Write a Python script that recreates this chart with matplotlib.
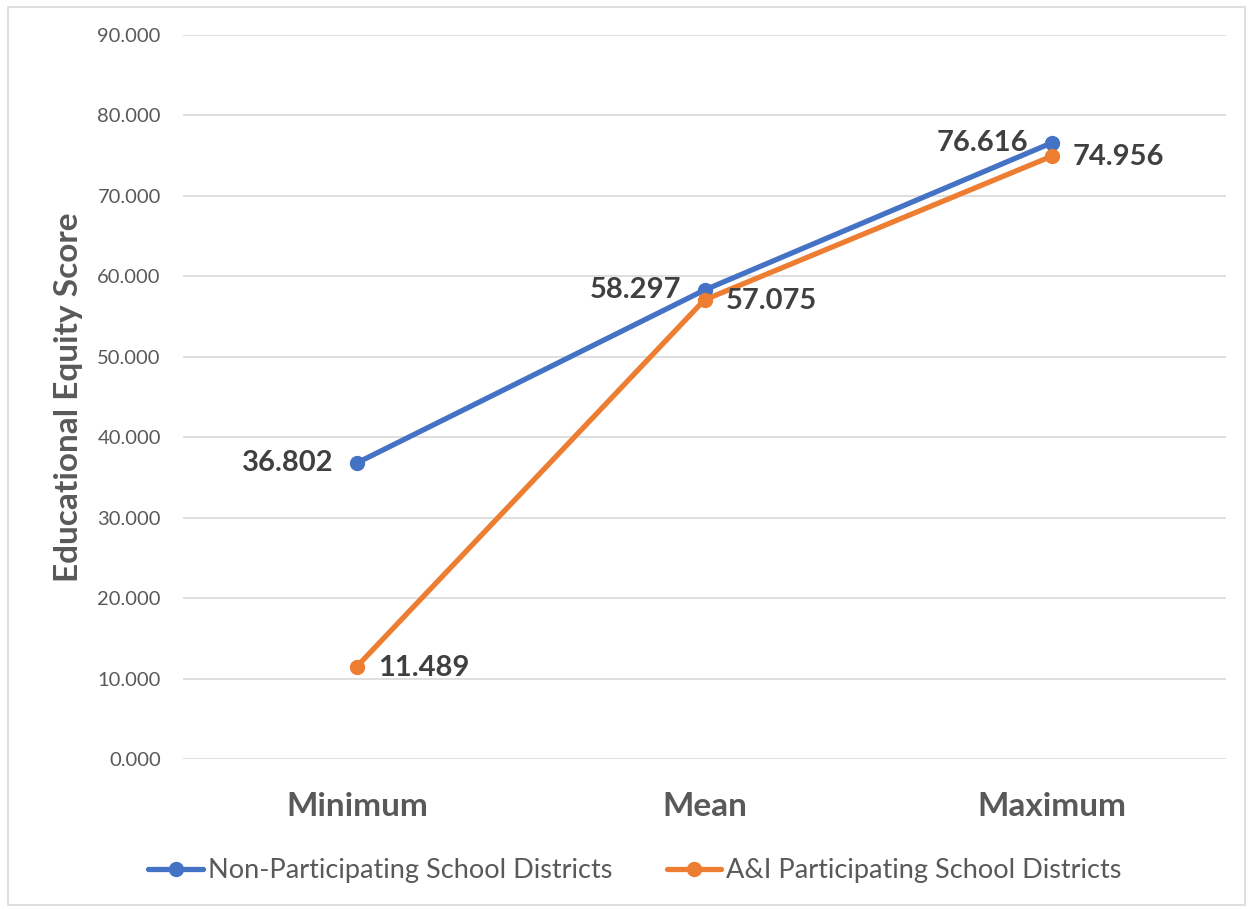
import matplotlib.pyplot as plt
from matplotlib.patches import Rectangle

plt.rcParams.update({
    'font.family': ['Lato', 'DejaVu Sans'],
    'axes.spines.top': False,
    'axes.spines.right': False,
    'axes.spines.left': False,
    'axes.spines.bottom': False,
})

categories = ['Minimum', 'Mean', 'Maximum']
non_participating = [36.802, 58.297, 76.616]
ai_participating = [11.489, 57.075, 74.956]
y_ticks = [0, 10, 20, 30, 40, 50, 60, 70, 80, 90]

BLUE = '#4472C4'
ORANGE = '#ED7D31'
GRID = '#D9D9D9'
TICK = '#595959'
LABEL = '#404040'

fig = plt.figure(figsize=(12.5, 9.09), dpi=100)
ax = fig.add_axes([0.1464, 0.165, 0.8344, 0.7965])

# chart frame
fig.patches.append(Rectangle((0.006, 0.004), 0.99, 0.988, transform=fig.transFigure,
                             fill=False, edgecolor=GRID, linewidth=1.2))

x = range(len(categories))
ax.plot(x, non_participating, color=BLUE, lw=3.8, marker='o', ms=10,
        label='Non-Participating School Districts', solid_capstyle='round', zorder=3)
ax.plot(x, ai_participating, color=ORANGE, lw=3.8, marker='o', ms=10,
        label='A&I Participating School Districts', solid_capstyle='round', zorder=3)

# value labels: blue to the left, orange to the right
for i, v in enumerate(non_participating):
    ax.annotate(f'{v:.3f}', (i, v), xytext=(-17, 0), textcoords='offset points',
                ha='right', va='center', fontsize=21, fontweight='bold', color=LABEL)
for i, v in enumerate(ai_participating):
    ax.annotate(f'{v:.3f}', (i, v), xytext=(15, -1), textcoords='offset points',
                ha='left', va='center', fontsize=21, fontweight='bold', color=LABEL)

ax.set_xlim(-0.5, 2.5)
ax.set_ylim(0, 90)
ax.set_yticks(y_ticks)
ax.set_yticklabels([f'{t:.3f}' for t in y_ticks], fontsize=14.5, color=TICK)
ax.set_xticks(list(x))
ax.set_xticklabels(categories, fontsize=24, fontweight='bold', color=TICK)
ax.tick_params(axis='both', length=0)
ax.tick_params(axis='y', pad=16)
ax.tick_params(axis='x', pad=24)
ax.grid(axis='y', color=GRID, linewidth=1.2)
ax.set_axisbelow(True)
ax.set_ylabel('Educational Equity Score', fontsize=24, fontweight='bold',
              color=TICK, labelpad=10)

fig.legend(loc='center', bbox_to_anchor=(0.508, 0.042), ncol=2, frameon=False,
           fontsize=19.5, labelcolor=TICK, handlelength=2.0, handletextpad=0.2,
           columnspacing=2.0)

fig.savefig('out.png', dpi=100)
